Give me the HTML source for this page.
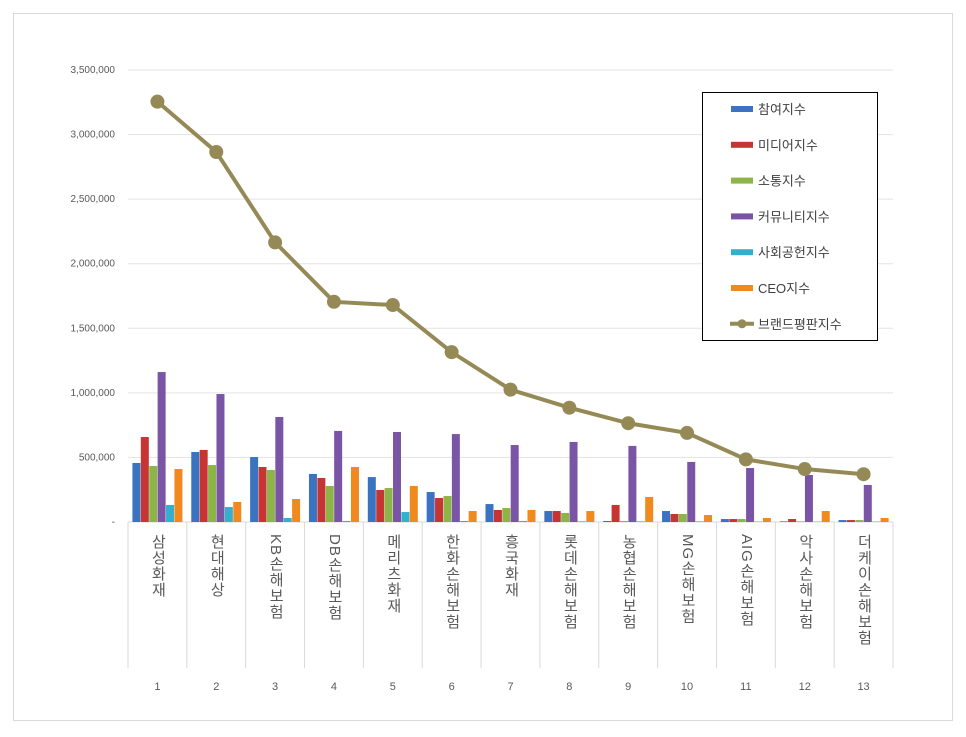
<!DOCTYPE html>
<html><head><meta charset="utf-8">
<style>
body{margin:0;background:#fff;font-family:"Liberation Sans","Noto Sans CJK KR",sans-serif;}
#wrap{position:relative;width:966px;height:732px;}
svg text{font-family:"Liberation Sans","Noto Sans CJK KR",sans-serif;}
.xl{position:absolute;top:534px;width:20px;writing-mode:vertical-rl;font-size:15px;color:#595959;letter-spacing:1px;line-height:20px;font-family:"Liberation Sans","Noto Sans CJK KR",sans-serif;}
</style></head>
<body>
<div id="wrap">
<svg id="chart" width="966" height="732">
<rect x="13.5" y="13.5" width="939" height="707" fill="#fff" stroke="#d9d9d9"/>
<g id="grid"></g><g id="bars"></g><g id="line"></g><g id="xaxis"></g>
<g>
<rect x="702.5" y="92.5" width="175" height="248" fill="#fff" stroke="#000"/>
<g id="legend"></g>
</g>
</svg>
<div id="xlabels"></div>
</div>
<script>
const categories=["삼성화재","현대해상","KB손해보험","DB손해보험","메리츠화재","한화손해보험","흥국화재","롯데손해보험","농협손해보험","MG손해보험","AIG손해보험","악사손해보험","더케이손해보험"];
const seriesNames=["참여지수","미디어지수","소통지수","커뮤니티지수","사회공헌지수","CEO지수"];
const participation=[457000,542000,503000,372000,348000,232000,139000,85000,8000,85000,23000,5000,15000];
const media=[658000,558000,426000,341000,248000,186000,93000,85000,132000,62000,23000,23000,15000];
const communication=[434000,441000,403000,279000,263000,201000,108000,70000,8000,62000,23000,5000,15000];
const community=[1161000,991000,813000,705000,697000,681000,596000,620000,589000,465000,418000,364000,287000];
const social=[132000,116000,31000,8000,77000,8000,8000,5000,5000,5000,3000,3000,3000];
const ceo=[410000,155000,178000,426000,279000,85000,93000,85000,194000,54000,31000,85000,31000];
const brandIndex=[3255000,2865000,2165000,1705000,1680000,1315000,1025000,885000,765000,690000,485000,410000,370000];
const yTicks=[0,500000,1000000,1500000,2000000,2500000,3000000,3500000];
const yTickLabels=["-","500,000","1,000,000","1,500,000","2,000,000","2,500,000","3,000,000","3,500,000"];
const colors=["#3a74c0","#c63434","#8db446","#7a55a5","#35b0cc","#f0891e"];
const lineColor="#958a55";
const series=[participation,media,communication,community,social,ceo];
const NS="http://www.w3.org/2000/svg";
const X0=128,X1=893,Y0=522,YT=70,YMAX=3500000;
const cw=(X1-X0)/categories.length;
const y=v=>Y0-(v/YMAX)*(Y0-YT);
const xc=i=>X0+cw*i+cw/2;
function mk(tag,attrs,parent){const e=document.createElementNS(NS,tag);for(const k in attrs)e.setAttribute(k,attrs[k]);parent.appendChild(e);return e;}
const grid=document.getElementById('grid');
yTicks.forEach((t,i)=>{
  const l=mk('line',{x1:X0,x2:X1,y1:y(t),y2:y(t),stroke:i==0?'#d9d9d9':'#e3e3e3'},grid);
  
  
  const tx=mk('text',{x:115,y:y(t)+3,'text-anchor':'end','font-size':'10',fill:'#595959'},grid);
  tx.textContent=yTickLabels[i];
  
  
});
const bars=document.getElementById('bars');
const bw=8;
categories.forEach((c,i)=>{
  series.forEach((s,j)=>{
    const x=xc(i)-3*bw+j*bw+ (j-2.5)*0.4;
    const r=mk('rect',{x:x,y:y(s[i]),width:bw,height:Math.max(0,Y0-y(s[i])),fill:colors[j]},bars);
    
    
  });
});
const lg=document.getElementById('line');
const pts=brandIndex.map((v,i)=>xc(i)+','+y(v)).join(' ');
const pl=mk('polyline',{points:pts,fill:'none',stroke:lineColor,'stroke-width':4},lg);


brandIndex.forEach((v,i)=>{
  const c=mk('circle',{cx:xc(i),cy:y(v),r:7,fill:lineColor},lg);
  
  
});
const xa=document.getElementById('xaxis');
for(let i=0;i<=categories.length;i++){
  const l=mk('line',{x1:X0+cw*i,x2:X0+cw*i,y1:Y0,y2:668,stroke:'#d9d9d9'},xa);
  
  
}
categories.forEach((c,i)=>{
  const t=mk('text',{x:xc(i),y:690,'text-anchor':'middle','font-size':'11',fill:'#595959'},xa);
  t.textContent=String(i+1);
  
  
});
const xl=document.getElementById('xlabels');
categories.forEach((c,i)=>{
  const d=document.createElement('div');
  d.className='xl';d.style.left=(xc(i)-10)+'px';d.textContent=c;
  
  
  xl.appendChild(d);
});
const leg=document.getElementById('legend');
const legNames=seriesNames.concat(["브랜드평판지수"]);
legNames.forEach((n,i)=>{
  const yy=109+i*35.8;
  if(i<6){
    const r=mk('rect',{x:731,y:yy-3,width:22,height:6,fill:colors[i]},leg);
    
    
  }else{
    const l=mk('line',{x1:730,x2:754,y1:yy,y2:yy,stroke:lineColor,'stroke-width':4},leg);
    
    
    const c=mk('circle',{cx:742,cy:yy,r:4.5,fill:lineColor},leg);
    
    
  }
  const t=mk('text',{x:758,y:yy+5,'font-size':'13',fill:'#404040'},leg);
  t.textContent=n;
  
  
});
</script>
</body></html>
